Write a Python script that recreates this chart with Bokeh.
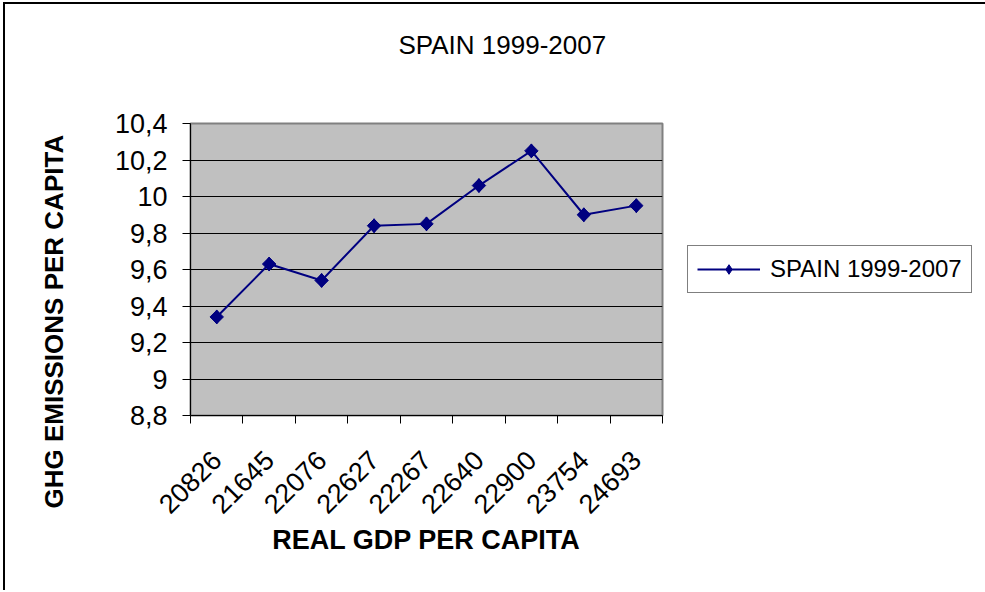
import numpy as np
from bokeh.plotting import figure
from bokeh.models import (FixedTicker, CustomJSTickFormatter, Legend, LegendItem, Range1d, Title)
from bokeh.embed import file_html
from bokeh.resources import INLINE

# ---- data ----
title_text = "SPAIN 1999-2007"
series_name = "SPAIN 1999-2007"
gdp_labels = ["20826", "21645", "22076", "22627", "22267", "22640", "22900", "23754", "24693"]
ghg_values = [9.34, 9.63, 9.54, 9.84, 9.85, 10.06, 10.25, 9.90, 9.95]
y_ticks = [8.8, 9.0, 9.2, 9.4, 9.6, 9.8, 10.0, 10.2, 10.4]
x_label = "REAL GDP PER CAPITA"
y_label = "GHG EMISSIONS PER CAPITA"

n = len(gdp_labels)
x_pos = [i + 0.5 for i in range(n)]
x_bounds = [float(i) for i in range(n + 1)]

FONT = "Liberation Sans"
NAVY = "#000080"
NBSP = "\u00a0"

p = figure(frame_width=472, frame_height=292,
           min_border_left=185, min_border_right=320,
           min_border_top=119, min_border_bottom=175,
           x_range=Range1d(0, n), y_range=Range1d(y_ticks[0], y_ticks[-1]),
           output_backend="svg", toolbar_location=None,
           background_fill_color="#C0C0C0", border_fill_color="white",
           title=None)

p.outline_line_color = "#808080"
p.outline_line_width = 2

# title: a blank spacer next to the frame, then the real title above it
p.add_layout(Title(text=NBSP, text_font=FONT, text_font_size="26px", standoff=10), "above")
p.add_layout(Title(text=title_text, align="left", offset=208,
                   text_font=FONT, text_font_size="26px", text_font_style="normal",
                   text_color="black", standoff=44), "above")

# grid
p.xgrid.grid_line_color = None
p.ygrid.grid_line_color = "black"
p.ygrid.grid_line_width = 1

# x axis
xa = p.xaxis[0]
xa.ticker = FixedTicker(ticks=x_pos, minor_ticks=x_bounds)
xa.formatter = CustomJSTickFormatter(args=dict(labels=gdp_labels),
                                     code="return labels[Math.floor(tick)];")
xa.major_label_orientation = np.pi / 4
xa.major_tick_out = 0
xa.major_tick_in = 0
xa.minor_tick_out = 8
xa.minor_tick_in = 0
xa.minor_tick_line_color = "black"
xa.axis_line_color = "black"
xa.major_label_text_font = FONT
xa.major_label_text_font_size = "27px"
xa.major_label_text_color = "black"
xa.major_label_standoff = 32
xa.axis_label = x_label
xa.axis_label_text_font = FONT
xa.axis_label_text_font_size = "27px"
xa.axis_label_text_font_style = "bold"
xa.axis_label_text_color = "black"
xa.axis_label_standoff = 0

# y axis
ya = p.yaxis[0]
ya.ticker = FixedTicker(ticks=y_ticks)
ya.formatter = CustomJSTickFormatter(code="return (Math.round(tick*10)/10).toString().replace('.', ',');")
ya.major_tick_out = 8
ya.major_tick_in = 0
ya.minor_tick_line_color = None
ya.axis_line_color = "black"
ya.major_label_text_font = FONT
ya.major_label_text_font_size = "27px"
ya.major_label_text_color = "black"
ya.major_label_standoff = 15

# y axis title as side titles (small blank spacer, then the title) so it can be shifted
p.add_layout(Title(text=NBSP, text_font=FONT, text_font_size="8px", standoff=0), "left")
p.add_layout(Title(text=y_label, align="left", offset=-93,
                   text_font=FONT, text_font_size="26px", text_font_style="bold",
                   text_color="black", standoff=63), "left")

# series
line_r = p.line(x_pos, ghg_values, line_color=NAVY, line_width=2)
# diamond used for the legend swatch; hidden beneath the rotated-square markers
leg_mark = p.scatter(x_pos, ghg_values, marker="diamond", size=14,
                     fill_color=NAVY, line_color=NAVY)
mark_r = p.scatter(x_pos, ghg_values, marker="square", angle=np.pi / 4, size=9.5,
                   fill_color=NAVY, line_color=NAVY)

legend = Legend(items=[LegendItem(label=series_name, renderers=[line_r, leg_mark])],
                location="center_left")
legend.border_line_color = "black"
legend.border_line_width = 1
legend.background_fill_color = "white"
legend.background_fill_alpha = 1
legend.label_text_font = FONT
legend.label_text_font_size = "24px"
legend.label_text_color = "black"
legend.glyph_width = 63
legend.glyph_height = 24
legend.label_standoff = 10
legend.padding = 9
legend.margin = 25
p.add_layout(legend, "right")

p.styles = {"border-left": "2px solid black", "border-top": "2px solid black",
            "margin-left": "3px", "margin-top": "2px"}

open("out.html", "w").write(file_html(p, INLINE))
